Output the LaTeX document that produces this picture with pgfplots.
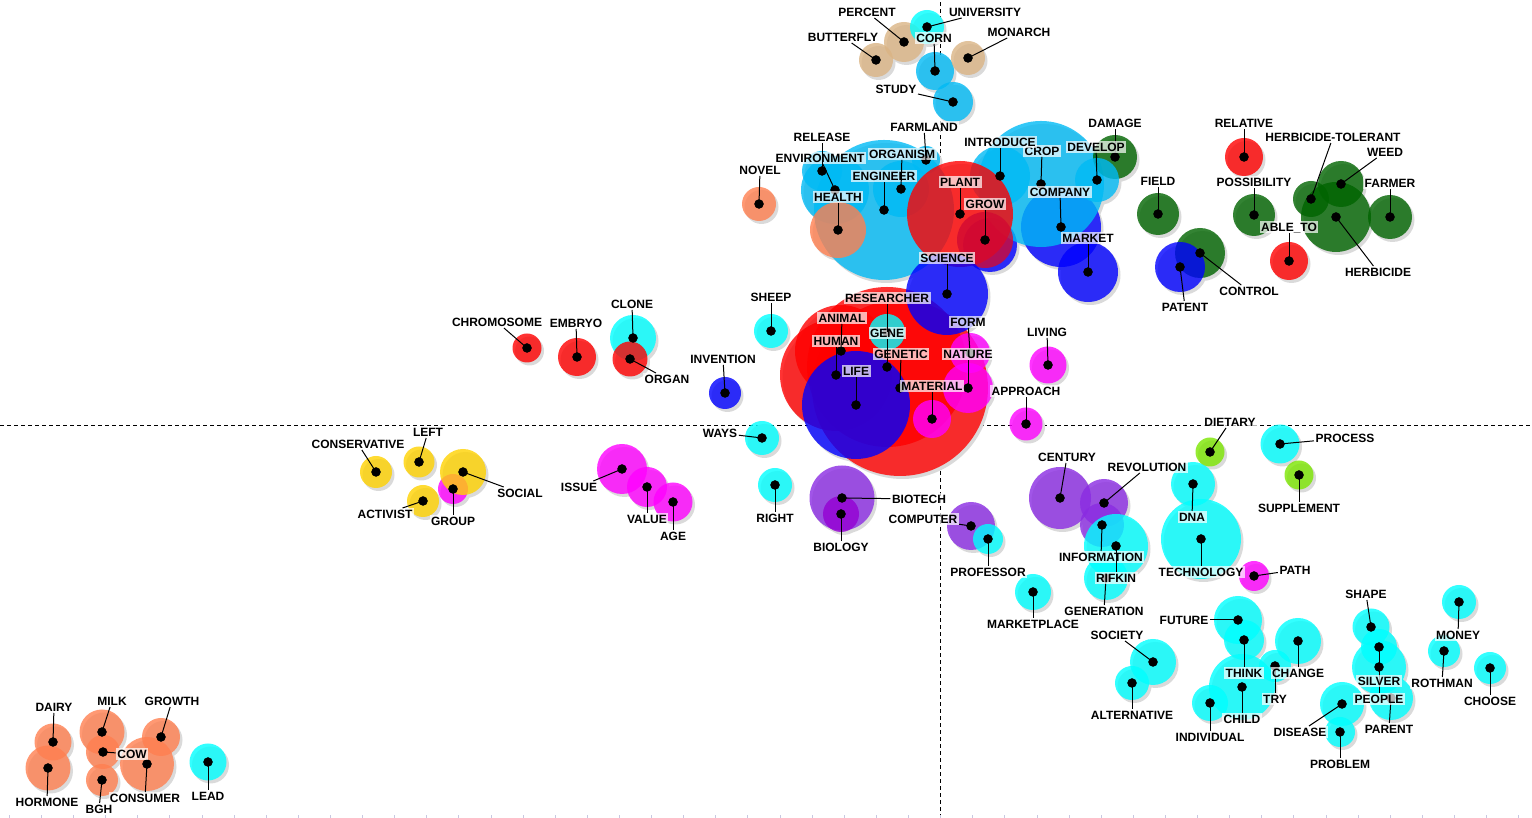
\documentclass[border=0pt]{standalone}
\usepackage{fontspec}
\setmainfont{Liberation Sans}
\usepackage{pgfplots}
\usepackage{pgfplotstable}
\pgfplotsset{compat=1.18}
\definecolor{cy}{RGB}{0,255,255}
\definecolor{sb}{RGB}{0,186,245}
\definecolor{tn}{RGB}{218,180,132}
\definecolor{rd}{RGB}{255,0,0}
\definecolor{bl}{RGB}{0,0,255}
\definecolor{gr}{RGB}{0,100,0}
\definecolor{mg}{RGB}{255,0,255}
\definecolor{pu}{RGB}{138,43,226}
\definecolor{dv}{RGB}{148,0,211}
\definecolor{sa}{RGB}{255,127,80}
\definecolor{ye}{RGB}{255,210,0}
\definecolor{lg}{RGB}{124,230,0}
\definecolor{cr}{RGB}{210,10,50}
\definecolor{shd}{RGB}{218,218,218}
\definecolor{tickc}{RGB}{200,200,225}
\pgfplotstableread[col sep=comma]{
x,y,r,c,lx,ly,lab
884,210,70,sb,884,176,ENGINEER
835,190,34,sb,820,158,ENVIRONMENT
822,171,20,sb,822,137,RELEASE
901,189,28,sb,902,154,ORGANISM
926,160,14,sb,924,127,FARMLAND
838,230,28,sa,838,197,HEALTH
759,204,17,sa,760,170,NOVEL
1061,227,40,bl,1060,192,COMPANY
1041,184,63,sb,1042,151,CROP
1000,176,30,sb,1000,142,INTRODUCE
1115,157,22,gr,1115,123,DAMAGE
1097,180,22,sb,1096,147,DEVELOP
1088,272,30,bl,1088,238,MARKET
960,214,53,rd,960,182,PLANT
985,240,28,cr,985,204,GROW
904,42,20,tn,867,12,PERCENT
876,60,17,tn,843,37,BUTTERFLY
927,27,17,cy,985,12,UNIVERSITY
935,71,19,sb,934,38,CORN
968,58,17,tn,1019,32,MONARCH
953,102,20,sb,896,89,STUDY
900,388,88,rd,901,354,GENETIC
887,367,80,rd,887,333,GENE
836,375,56,rd,836,341,HUMAN
841,351,46,rd,842,318,ANIMAL
947,294,41,bl,947,258,SCIENCE
856,405,54,bl,856,371,LIFE
887,332,18,cy,887,298,RESEARCHER
970,353,20,mg,968,322,FORM
968,388,25,mg,968,354,NATURE
932,419,19,mg,932,386,MATERIAL
1026,424,16.5,mg,1026,391,APPROACH
1048,365,18.5,mg,1047,332,LIVING
771,331,17,cy,771,297,SHEEP
527,348,14.5,rd,497,322,CHROMOSOME
577,357,19,rd,576,323,EMBRYO
633,338,23,cy,632,304,CLONE
630,359,17.5,rd,667,379,ORGAN
725,393,16,bl,723,359,INVENTION
1244,157,19,rd,1244,123,RELATIVE
1336,217,35,gr,1378,272,HERBICIDE
1311,199,18,gr,1333,137,HERBICIDE-TOLERANT
1341,184,23,gr,1385,152,WEED
1390,217,22,gr,1390,183,FARMER
1254,215,21,gr,1254,182,POSSIBILITY
1158,214,21,gr,1158,181,FIELD
1289,261,19,rd,1289,227,ABLE\_TO
1200,253,25,gr,1249,291,CONTROL
1180,267,25,bl,1185,307,PATENT
762,438,17,cy,720,433,WAYS
775,485,17,cy,775,518,RIGHT
842,498,32.5,pu,919,499,BIOTECH
841,514,18,dv,841,547,BIOLOGY
971,526,24,pu,923,519,COMPUTER
988,539,15,cy,988,572,PROFESSOR
1060,498,31,pu,1067,457,CENTURY
1104,503,24,pu,1147,467,REVOLUTION
1102,525,22,pu,1101,557,INFORMATION
1106,578,22,cy,1104,611,GENERATION
1116,546,32,cy,1116,578,RIFKIN
1033,592,18,cy,1033,624,MARKETPLACE
1193,484,22,cy,1192,517,DNA
1201,539,40,cy,1201,572,TECHNOLOGY
1210,452,14.5,lg,1230,422,DIETARY
1280,444,19.5,cy,1345,438,PROCESS
1299,475,14.5,lg,1299,508,SUPPLEMENT
1254,576,15,mg,1295,570,PATH
376,472,16,ye,358,444,CONSERVATIVE
419,462,15.5,ye,428,432,LEFT
453,489,15,mg,453,521,GROUP
463,472,23,ye,520,493,SOCIAL
423,501,16,ye,385,514,ACTIVIST
622,469,25,mg,579,487,ISSUE
647,487,20,mg,647,519,VALUE
673,502,19.5,mg,673,536,AGE
48,768,22.5,sa,47,802,HORMONE
53,742,18.5,sa,54,707,DAIRY
102,732,22.5,sa,112,701,MILK
103,752,17,sa,132,754,COW
102,780,16,sa,99,809,BGH
147,764,27,sa,145,798,CONSUMER
161,737,19,sa,172,701,GROWTH
208,762,18.5,cy,208,796,LEAD
1242,687,33,cy,1242,719,CHILD
1238,620,24,cy,1184,620,FUTURE
1244,640,20,cy,1244,673,THINK
1210,703,18,cy,1210,737,INDIVIDUAL
1275,666,16,cy,1275,699,TRY
1298,641,23,cy,1298,673,CHANGE
1391,698,22,cy,1389,729,PARENT
1379,667,27,cy,1379,699,PEOPLE
1371,627,18.5,cy,1366,594,SHAPE
1379,647,18,cy,1379,681,SILVER
1342,704,22,cy,1300,732,DISEASE
1340,732,15,cy,1340,764,PROBLEM
1459,602,17,cy,1458,635,MONEY
1444,651,16,cy,1442,683,ROTHMAN
1490,668,16,cy,1490,701,CHOOSE
1153,662,23,cy,1117,635,SOCIETY
1132,683,17,cy,1132,715,ALTERNATIVE
}\bub
\pgfplotstableread[col sep=comma]{
x,y,r,c
990,245,27,bl
}\extra
\pgfplotstableread{
x h
9.3 3
41.4 3
73.5 3
105.6 3
137.8 3
169.9 3
202.0 3
234.1 3
266.2 3
298.3 3
330.5 3
362.6 3
394.7 3
426.8 3
458.9 3
491.0 3
523.1 3
555.3 3
587.4 3
619.5 3
651.6 3
683.7 3
715.8 3
747.9 3
780.1 3
812.2 3
844.3 3
876.4 3
908.5 3
940.6 3
972.8 3
1004.9 3
1037.0 3
1069.1 3
1101.2 3
1133.3 3
1165.4 3
1197.6 3
1229.7 3
1261.8 3
1293.9 3
1326.0 3
1358.1 3
1390.2 3
1422.4 3
1454.5 3
1486.6 3
1518.7 3
}\ticks
\tikzset{lbl/.style={font=\fontsize{12}{12}\selectfont\bfseries, fill=white, fill opacity=0.7, text opacity=1, draw=none, inner xsep=1.5pt, inner ysep=1.5pt, text height=8.6pt, text depth=0pt}}
\pgfplotsset{
  shadowplot/.style={scatter, only marks, mark=*, point meta=\thisrow{r},
    visualization depends on={\thisrow{r} \as \bR},
    scatter/@pre marker code/.code={\path[fill=shd, draw=none] (2.5pt,-3pt) circle[radius=\bR pt]; \scope[opacity=0]},
    scatter/@post marker code/.code={\endscope}},
  bubbleplot/.style={scatter, only marks, mark=*, point meta=explicit symbolic,
    visualization depends on={\thisrow{r} \as \bR},
    scatter/@pre marker code/.code={\path[fill=\pgfplotspointmeta, fill opacity=0.8, draw=none] (0,0) circle[radius=\bR pt]; \scope[opacity=0]},
    scatter/@post marker code/.code={\endscope}},
}
\begin{document}
\begin{tikzpicture}
\begin{axis}[name=ax, width=1532pt, height=818pt, scale only axis,
  xmin=0, xmax=1532, ymin=0, ymax=818,
  axis line style={draw=none},
  xtick=\empty, ytick=\empty,
  clip=false]
% shadows
\addplot[shadowplot] table[x=x, y expr=818-\thisrow{y}] {\extra};
\addplot[shadowplot] table[x=x, y expr=818-\thisrow{y}] {\bub};
% bubbles
\addplot[bubbleplot] table[x=x, y expr=818-\thisrow{y}, meta=c] {\extra};
\addplot[bubbleplot] table[x=x, y expr=818-\thisrow{y}, meta=c] {\bub};
% quadrant lines
\addplot[black, line width=0.9pt, dash pattern=on 4pt off 3pt] coordinates {(940.3,0) (940.3,818)};
\addplot[black, line width=0.9pt, dash pattern=on 4pt off 3pt] coordinates {(0,393) (1532,393)};
% bottom ticks
\addplot[ycomb, draw=tickc, line width=1pt, mark=none] table[x=x, y=h] {\ticks};
% dots
\addplot[only marks, mark=*, mark size=4.5pt, black] table[x=x, y expr=818-\thisrow{y}] {\bub};
% labels
\addplot[scatter, only marks, mark=*, point meta=explicit symbolic,
  visualization depends on={\thisrow{lx}-\thisrow{x} \as \bDX},
  visualization depends on={\thisrow{y}-\thisrow{ly} \as \bDY},
  scatter/@pre marker code/.code={\node[lbl] (L) at (\bDX pt,\bDY pt) {\pgfplotspointmeta}; \draw[black, line width=1pt] (0,0) -- (L); \scope[opacity=0]},
  scatter/@post marker code/.code={\endscope}]
  table[x=x, y expr=818-\thisrow{y}, meta=lab] {\bub};
\end{axis}
\pgfresetboundingbox
\useasboundingbox (ax.south west) rectangle (ax.north east);
\end{tikzpicture}
\end{document}
